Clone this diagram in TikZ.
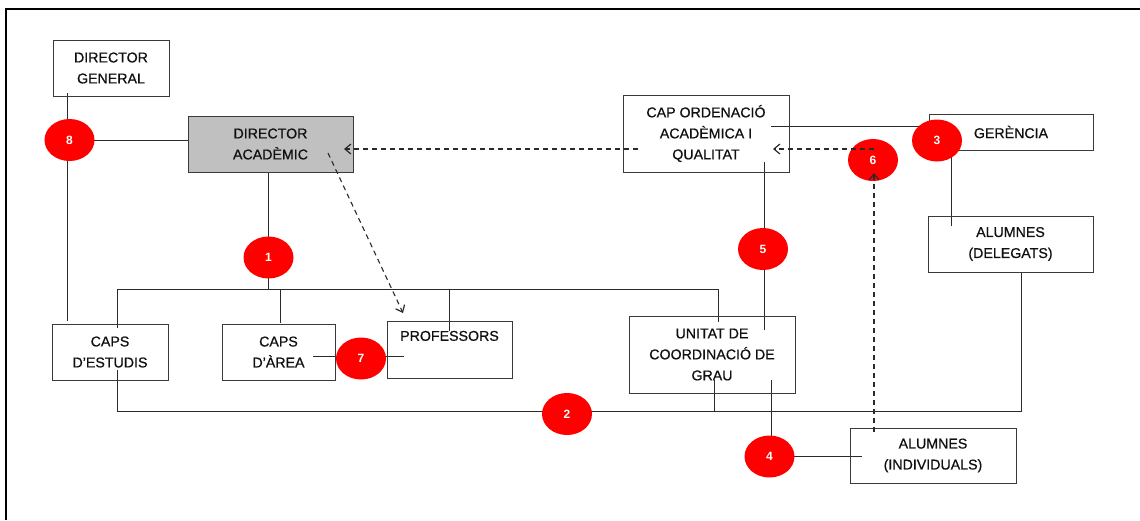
\documentclass[tikz,border=0pt]{standalone}
\usepackage{fontspec}
\setmainfont{Liberation Sans}
\newfontface\heavy{Liberation Sans}[FakeBold=0.7]
\usetikzlibrary{arrows.meta,backgrounds,shapes.geometric}
\definecolor{boxline}{HTML}{3A3A3A}
\definecolor{conn}{HTML}{2A2A2A}
\definecolor{dagray}{HTML}{C0C0C0}
\definecolor{txt}{HTML}{101010}
\begin{document}
\begin{tikzpicture}[x=1pt,y=-1pt,
  box/.style={draw=boxline,line width=1pt,inner sep=0pt,align=center,text=txt,
    font=\heavy\fontsize{14.2}{21}\selectfont},
  num/.style={ellipse,fill=red,minimum width=50pt,minimum height=42pt,inner sep=0pt,
    text=white,font=\fontsize{12}{12}\selectfont\bfseries},
  conline/.style={draw=conn,line width=1pt},
  dasharrow/.style={draw=conn,line width=1.1pt,dash pattern=on 5pt off 4pt,
    -{Straight Barb[length=6pt,width=10pt,line width=1.2pt]}},
  frame/.style={draw=black,line width=2.8pt}]
\useasboundingbox (0,0) rectangle (1140,520);
% frame
\coordinate (fTL) at (6,9);
\coordinate (fTR) at (1140,9);
\coordinate (fBL) at (6,520);
\draw[frame] (fBL) -- (fTL) -- (fTR);

% boxes
\node[box,minimum width=116pt,minimum height=56pt] (dg) at (111,68) {DIRECTOR\\GENERAL};
\node[box,fill=dagray,minimum width=165pt,minimum height=56pt] (da) at (270.5,144) {DIRECTOR\\ACADÈMIC};
\node[box,minimum width=166pt,minimum height=77pt] (cap) at (706,133.5) {CAP ORDENACIÓ\\ACADÈMICA I\\QUALITAT};
\node[box,minimum width=164pt,minimum height=36pt] (ger) at (1011,132) {GERÈNCIA};
\node[box,minimum width=165pt,minimum height=56pt] (ald) at (1010.5,244) {ALUMNES\\(DELEGATS)};
\node[box,minimum width=116pt,minimum height=56pt] (ces) at (110,352) {CAPS\\D’ESTUDIS};
\node[box,minimum width=113pt,minimum height=56pt] (car) at (278.5,352) {CAPS\\D’ÀREA};
\node[box,minimum width=125pt,minimum height=57pt] (prof) at (449.5,349.5) {PROFESSORS\\\strut};
\node[box,minimum width=166pt,minimum height=77pt] (ucg) at (712,354.5) {UNITAT DE\\COORDINACIÓ DE\\GRAU};
\node[box,minimum width=166pt,minimum height=55pt] (ali) at (933,455.5) {ALUMNES\\(INDIVIDUALS)};

% circles
\node[num] (c8) at (69.5,140) {8};
\node[num] (c1) at (268.5,257.5) {1};
\node[num] (c3) at (937,140.5) {3};
\node[num] (c6) at (873,160) {6};
\node[num] (c5) at (763,249) {5};
\node[num] (c7) at (361,358.5) {7};
\node[num] (c2) at (567,414) {2};
\node[num] (c4) at (769.5,456.5) {4};

% anchor coordinates for connector ends
\coordinate (dgA) at (67,93);
\coordinate (cesA) at (67,321);
\coordinate (busL) at (117,289);
\coordinate (cesB) at (117,328);
\coordinate (busR) at (718,289);
\coordinate (ucgA) at (718,322);
\coordinate (carA) at (280,323);
\coordinate (profA) at (449,331);
\coordinate (carB) at (313,356);
\coordinate (profB) at (404,356);
\coordinate (cesC) at (117,370);
\coordinate (botL) at (117,411);
\coordinate (botR) at (1021,411);
\coordinate (aldB) at (1021,272);
\coordinate (ucgB) at (714,380);
\coordinate (ucgBb) at (714,411);
\coordinate (ucgC) at (771,380);
\coordinate (aliA) at (862,455);
\coordinate (capA) at (764,162);
\coordinate (ucgD) at (764,330);
\coordinate (capB) at (771,126);
\coordinate (gerA) at (929,126);
\coordinate (aldA) at (951,226);
\coordinate (capC) at (638,149);
\coordinate (daA) at (344,149);
\coordinate (daB) at (328,153);
\coordinate (profC) at (403,313);
\coordinate (c6A) at (874,149);
\coordinate (capD) at (773,149);
\coordinate (aliB) at (874,432);
\coordinate (c6B) at (874,173);

% solid connectors (behind circles)
\begin{scope}[on background layer]
\draw[conline] (dgA) -- (cesA);
\draw[conline] (c8.center) -- (c8.center -| da.west);
\draw[conline] (da.south -| c1) -- (c1.center) -- (c1.center |- busL);
\draw[conline] (cesB) -- (busL) -- (busR) -- (ucgA);
\draw[conline] (carA |- busL) -- (carA);
\draw[conline] (profA |- busL) -- (profA);
\draw[conline] (carB) -- (profB);
\draw[conline] (cesC) -- (botL) -- (botR) -- (aldB);
\draw[conline] (ucgB) -- (ucgBb);
\draw[conline] (ucgC) -- (ucgC |- c4) -- (aliA |- c4);
\draw[conline] (capA) -- (ucgD);
\draw[conline] (capB) -- (gerA);
\draw[conline] (c3.center -| aldA) -- (aldA);
\end{scope}

% dashed arrows (on top)
\draw[dasharrow] (capC) -- (daA);
\draw[dasharrow] (daB) -- (profC);
\draw[dasharrow] (c6A) -- (capD);
\draw[dasharrow] (aliB) -- (c6B);
\end{tikzpicture}
\end{document}
